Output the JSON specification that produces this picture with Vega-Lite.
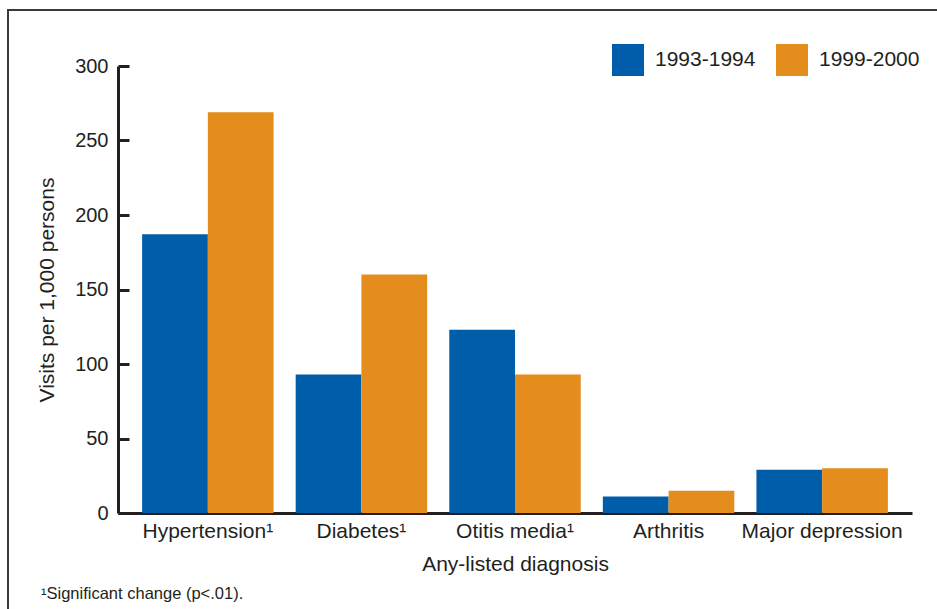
{
  "$schema": "https://vega.github.io/schema/vega-lite/v6.json",
  "width": 794,
  "height": 447,
  "autosize": {"type": "none"},
  "padding": {"left": 118, "top": 66, "right": 25, "bottom": 96},
  "background": "white",
  "config": {
    "view": {"stroke": null},
    "font": "Liberation Sans",
    "axis": {"labelColor": "#231f20", "titleColor": "#231f20", "domainColor": "#231f20", "tickColor": "#231f20"}
  },
  "title": {
    "text": "¹Significant change (p<.01).",
    "orient": "bottom",
    "anchor": "start",
    "frame": "group",
    "fontSize": 16.5,
    "fontWeight": "normal",
    "color": "#231f20",
    "dx": -77,
    "dy": -26,
    "offset": 0
  },
  "layer": [
    {
      "data": {"values": [{"frame": "border"}]},
      "mark": {"type": "rect", "fill": null, "stroke": "#3a3a3a", "strokeWidth": 2},
      "encoding": {
        "x": {"value": -110},
        "x2": {"value": 900},
        "y": {"value": -56},
        "y2": {"value": 545}
      }
    },
    {
      "data": {
        "values": [
          {"diagnosis": "Hypertension¹", "period": "1993-1994", "visits": 187},
          {"diagnosis": "Hypertension¹", "period": "1999-2000", "visits": 269},
          {"diagnosis": "Diabetes¹", "period": "1993-1994", "visits": 93},
          {"diagnosis": "Diabetes¹", "period": "1999-2000", "visits": 160},
          {"diagnosis": "Otitis media¹", "period": "1993-1994", "visits": 123},
          {"diagnosis": "Otitis media¹", "period": "1999-2000", "visits": 93},
          {"diagnosis": "Arthritis", "period": "1993-1994", "visits": 11},
          {"diagnosis": "Arthritis", "period": "1999-2000", "visits": 15},
          {"diagnosis": "Major depression", "period": "1993-1994", "visits": 29},
          {"diagnosis": "Major depression", "period": "1999-2000", "visits": 30}
        ]
      },
      "mark": {"type": "bar"},
      "encoding": {
        "x": {
          "field": "diagnosis",
          "type": "nominal",
          "sort": null,
          "scale": {"paddingInner": 0.144, "paddingOuter": 0.157},
          "axis": {
            "title": "Any-listed diagnosis",
            "titleFontSize": 21,
            "titleFontWeight": "normal",
            "titlePadding": 12,
            "labelFontSize": 21,
            "labelAngle": 0,
            "labelPadding": 7,
            "ticks": false,
            "domainWidth": 3
          }
        },
        "xOffset": {"field": "period", "type": "nominal", "scale": {"paddingInner": 0, "paddingOuter": 0}},
        "y": {
          "field": "visits",
          "type": "quantitative",
          "scale": {"domain": [0, 300], "nice": false},
          "axis": {
            "title": "Visits per 1,000 persons",
            "titleFontSize": 21,
            "titleFontWeight": "normal",
            "titlePadding": 17,
            "values": [0, 50, 100, 150, 200, 250, 300],
            "grid": false,
            "labelFontSize": 20,
            "labelPadding": 21,
            "tickSize": -11,
            "tickWidth": 3,
            "domainWidth": 3
          }
        },
        "color": {
          "field": "period",
          "type": "nominal",
          "scale": {"domain": ["1993-1994", "1999-2000"], "range": ["#005daa", "#e48d1d"]},
          "legend": {
            "title": null,
            "orient": "none",
            "legendX": 494,
            "legendY": -22,
            "direction": "horizontal",
            "symbolType": "square",
            "symbolSize": 1024,
            "symbolStrokeWidth": 0,
            "labelFontSize": 21,
            "labelColor": "#231f20",
            "labelOffset": 11,
            "columnPadding": 20,
            "padding": 0
          }
        }
      }
    }
  ]
}
